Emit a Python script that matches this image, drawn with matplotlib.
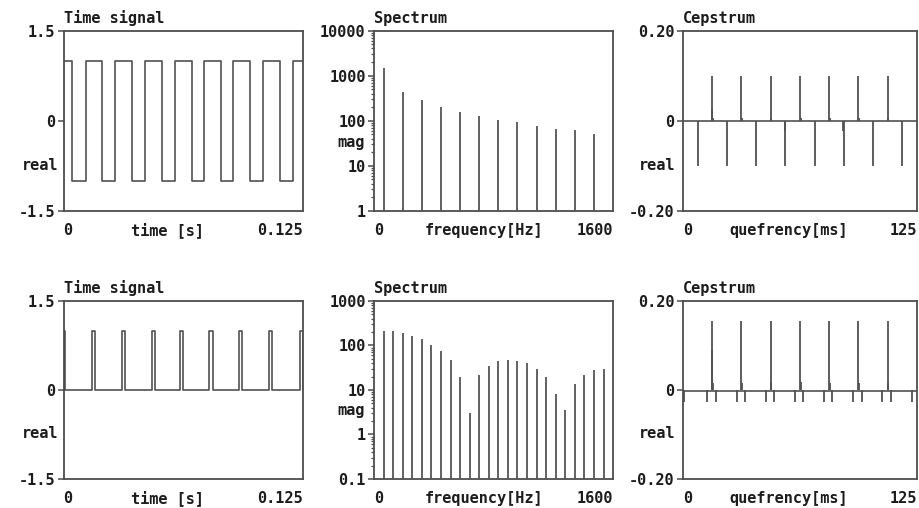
import numpy as np
import matplotlib
matplotlib.use('Agg')
import matplotlib.pyplot as plt
from matplotlib.ticker import FixedLocator, FixedFormatter, LogLocator, NullFormatter

# Data

# top row: 64 Hz square wave
sq_fall = [0.0045, 0.0202, 0.0357, 0.0514, 0.0670, 0.0820, 0.0971, 0.1128]
sq_rise = [0.0115, 0.0270, 0.0427, 0.0583, 0.0733, 0.0884, 0.1041, 0.1198]
sq_high, sq_low = 1.0, -1.0

sq_freq = [64, 192, 320, 448, 576, 704, 832, 960, 1088, 1216, 1344, 1472]
sq_mag = [1445, 445, 290, 198, 156, 125, 105, 92, 78, 67, 62, 52]

sq_cep_q = [15.625, 31.25, 46.875, 62.5, 78.125, 93.75, 109.375,
            7.8, 23.4, 39.1, 54.7, 70.3, 85.9, 101.6, 117.2,
            15.3, 54.4, 85.6,
            16.0, 31.6, 47.2, 62.8, 78.4, 94.1, 109.7]
sq_cep_v = [0.10, 0.10, 0.10, 0.10, 0.10, 0.10, 0.10,
            -0.10, -0.10, -0.10, -0.10, -0.10, -0.10, -0.10, -0.10,
            0.025, -0.022, -0.022,
            0.006, 0.006, 0.006, 0.006, 0.006, 0.006, 0.006]

# bottom row: 64 Hz pulse train
pl_on = [0.0, 0.0151, 0.0306, 0.0463, 0.0610, 0.0762, 0.0917, 0.1073, 0.1235]
pl_off = [0.0009, 0.0167, 0.0322, 0.0479, 0.0626, 0.0778, 0.0933, 0.1089, 0.125]
pl_high = 1.0

pl_freq = [64 * k for k in range(1, 25)]
pl_mag = [212, 212, 191, 161, 141, 103, 77, 47.5, 20, 3.1, 21.9, 35.5,
          44.5, 47.5, 44.5, 40, 30, 19.7, 8.1, 3.5, 13.5, 22, 27.5, 30.4]

pl_cep_q = [15.625, 31.25, 46.875, 62.5, 78.125, 93.75, 109.375, 15.3,
            0.5, 13.0, 17.6, 28.7, 33.1, 44.3, 48.8, 59.8, 64.3,
            75.3, 79.4, 91.0, 95.5, 106.1, 110.9, 122.2,
            16.0, 31.6, 47.2, 62.8, 78.4, 94.1, 109.7]
pl_cep_v = [0.155, 0.155, 0.155, 0.155, 0.155, 0.155, 0.155, 0.09,
            -0.026, -0.028, -0.026, -0.027, -0.026, -0.028, -0.026, -0.027, -0.026,
            -0.028, -0.026, -0.027, -0.026, -0.028, -0.026, -0.027,
            0.016, 0.016, 0.018, 0.018, 0.016, 0.016, 0.016]

# Style

FONT = 'DejaVu Sans Mono'
TXT = '#1c1c1c'
LINE = '0.32'
BARS = '0.38'
FRAME = '0.3'
FS = 11

fig = plt.figure(figsize=(9.19, 5.08), dpi=100)

cols = [(0.0691, 0.2606), (0.4070, 0.2601), (0.7432, 0.2546)]
rows = [(0.5846, 0.3553), (0.0571, 0.3504)]


def make_ax(r, c):
    ax = fig.add_axes([cols[c][0], rows[r][0], cols[c][1], rows[r][1]])
    for s in ax.spines.values():
        s.set_color(FRAME)
        s.set_linewidth(1.3)
    ax.tick_params(axis='x', length=0, labelbottom=False)
    ax.tick_params(axis='y', which='major', direction='out', length=4, width=1.1,
                   color=FRAME, pad=2, labelsize=FS, labelcolor=TXT)
    ax.tick_params(axis='y', which='minor', direction='out', length=2, width=0.9,
                   color=FRAME)
    return ax


def decorate(ax, title, xl, xr, xlabel, xlab_pos, ylabel, ylab_pos, ylab_x):
    h_px = ax.get_position().height * 508
    kw = dict(transform=ax.transAxes, fontsize=FS, fontfamily=FONT,
              fontweight='bold', color=TXT)
    ax.text(0.0, 1 + 8 / h_px, title, ha='left', va='baseline', **kw)
    yb = -24 / h_px
    ax.text(0.0, yb, xl, ha='left', va='baseline', **kw)
    ax.text(1.0, yb, xr, ha='right', va='baseline', **kw)
    ax.text(xlab_pos, yb, xlabel, ha='center', va='baseline', **kw)
    ax.text(ylab_x, ylab_pos, ylabel, ha='right', va='center', **kw)


def set_yticks(ax, vals, labels):
    ax.yaxis.set_major_locator(FixedLocator(vals))
    ax.yaxis.set_major_formatter(FixedFormatter(labels))
    for lab in ax.get_yticklabels():
        lab.set_fontfamily(FONT)
        lab.set_fontweight('bold')


def step_signal(t_up, t_down, hi, lo, start_high, t_end):
    # build a polyline from edge times
    edges = sorted([(t, 'd') for t in t_down] + [(t, 'u') for t in t_up])
    ts, ys = [0.0], [hi if start_high else lo]
    cur = ys[0]
    for t, kind in edges:
        new = lo if kind == 'd' else hi
        ts += [t, t]
        ys += [cur, new]
        cur = new
    ts.append(t_end)
    ys.append(cur)
    return ts, ys


# Top row

ax = make_ax(0, 0)
t, y = step_signal(sq_rise, sq_fall, sq_high, sq_low, True, 0.125)
ax.plot(t, y, color=LINE, lw=1.2)
ax.set_xlim(0, 0.125)
ax.set_ylim(-1.5, 1.5)
set_yticks(ax, [-1.5, 0, 1.5], ['-1.5', '0', '1.5'])
decorate(ax, 'Time signal', '0', '0.125', 'time [s]', 0.434, 'real', 0.25, -0.023)

ax = make_ax(0, 1)
ax.set_yscale('log')
ax.vlines(sq_freq, 1, sq_mag, color=BARS, lw=1.4)
ax.set_xlim(0, 1600)
ax.set_ylim(1, 10000)
set_yticks(ax, [1, 10, 100, 1000, 10000], ['1', '10', '100', '1000', '10000'])
ax.yaxis.set_minor_locator(LogLocator(base=10, subs=np.arange(2, 10)))
ax.yaxis.set_minor_formatter(NullFormatter())
decorate(ax, 'Spectrum', '0', '1600', 'frequency[Hz]', 0.46, 'mag', 0.38, -0.038)

ax = make_ax(0, 2)
ax.axhline(0, color=LINE, lw=1.2)
ax.vlines(sq_cep_q, 0, sq_cep_v, color=LINE, lw=1.3)
ax.set_xlim(0, 125)
ax.set_ylim(-0.2, 0.2)
set_yticks(ax, [-0.2, 0, 0.2], ['-0.20', '0', '0.20'])
decorate(ax, 'Cepstrum', '0', '125', 'quefrency[ms]', 0.453, 'real', 0.25, -0.034)

# Bottom row

ax = make_ax(1, 0)
t, y = step_signal(pl_on, pl_off, pl_high, 0.0, False, 0.125)
ax.plot(t, y, color=LINE, lw=1.2)
ax.set_xlim(0, 0.125)
ax.set_ylim(-1.5, 1.5)
set_yticks(ax, [-1.5, 0, 1.5], ['-1.5', '0', '1.5'])
decorate(ax, 'Time signal', '0', '0.125', 'time [s]', 0.434, 'real', 0.253, -0.023)

ax = make_ax(1, 1)
ax.set_yscale('log')
ax.vlines(pl_freq, 0.1, pl_mag, color=BARS, lw=1.4)
ax.set_xlim(0, 1600)
ax.set_ylim(0.1, 1000)
set_yticks(ax, [0.1, 1, 10, 100, 1000], ['0.1', '1', '10', '100', '1000'])
ax.yaxis.set_minor_locator(LogLocator(base=10, subs=np.arange(2, 10)))
ax.yaxis.set_minor_formatter(NullFormatter())
decorate(ax, 'Spectrum', '0', '1600', 'frequency[Hz]', 0.46, 'mag', 0.384, -0.038)

ax = make_ax(1, 2)
ax.axhline(-0.003, color=LINE, lw=1.2)
ax.vlines(pl_cep_q, 0, pl_cep_v, color=LINE, lw=1.3)
ax.set_xlim(0, 125)
ax.set_ylim(-0.2, 0.2)
set_yticks(ax, [-0.2, 0, 0.2], ['-0.20', '0', '0.20'])
decorate(ax, 'Cepstrum', '0', '125', 'quefrency[ms]', 0.453, 'real', 0.253, -0.034)

fig.savefig('out.png', dpi=100, facecolor='white')
